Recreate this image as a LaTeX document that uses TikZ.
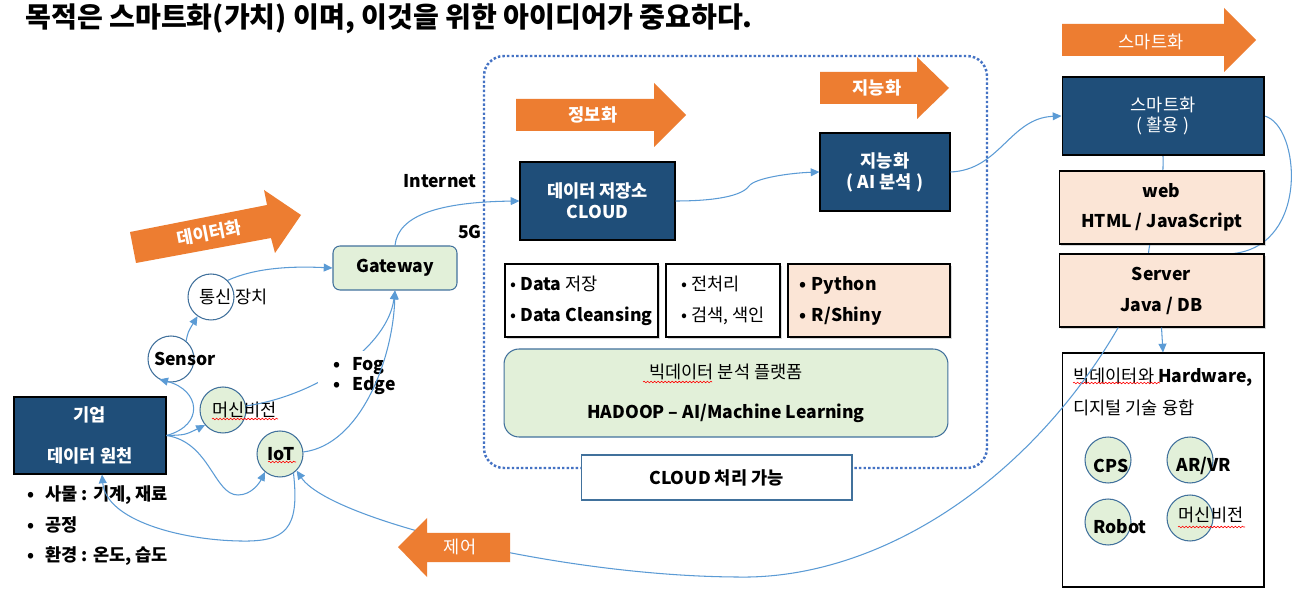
\documentclass[tikz,border=0pt]{standalone}
\usepackage{fontspec}
\setmainfont{Noto Sans CJK KR}
\usepackage{tikz}
\usetikzlibrary{arrows.meta,calc,shadows,decorations.pathmorphing}
\usepackage{xcolor}

\definecolor{boxblue}{HTML}{1F4E79}
\definecolor{ringblue}{HTML}{41719C}
\definecolor{linkblue}{HTML}{5B9BD5}
\definecolor{dotblue}{HTML}{4472C4}
\definecolor{leafgreen}{HTML}{E2F0D9}
\definecolor{peach}{HTML}{FBE5D6}
\definecolor{flamecol}{HTML}{ED7D31}

\pgfdeclarelayer{back}
\pgfsetlayers{back,main}

\tikzset{
	darkbox/.style={rectangle, draw=black, line width=0.6pt, fill=boxblue, text=white, align=center, inner sep=0pt},
	ring/.style={circle, draw=ringblue, line width=0.6pt, fill=white, minimum size=0.92cm, inner sep=0pt},
	leafring/.style={ring, fill=leafgreen},
	pane/.style={rectangle, draw=black, line width=0.6pt, fill=white, inner sep=0pt, align=left, minimum height=1.46cm, drop shadow={shadow xshift=1.2pt, shadow yshift=-1.2pt, opacity=0.3}},
	conn/.style={draw=linkblue, line width=0.6pt, -{Triangle[length=5pt,width=4.5pt]}},
	bare/.style={draw=linkblue, line width=0.6pt},
	squig/.style={draw=red, line width=0.35pt, decorate, decoration={snake, amplitude=0.45pt, segment length=2pt}},
	flametxt/.style={text=white, font=\bfseries},
}

\begin{document}
\begin{tikzpicture}[x=0.02cm, y=-0.02cm]
	\useasboundingbox (0,0) rectangle (1298,597);
	\begin{pgfonlayer}{back}
		\fill[white] (0,0) rectangle (1298,597);
	\end{pgfonlayer}

	\node(title) at (25,19)[anchor=west, inner sep=0pt, font=\fontsize{16}{19}\selectfont\bfseries]{목적은 스마트화(가치) 이며, 이것을 위한 아이디어가 중요하다.};

	% cloud frame
	\draw[dotblue, line width=1.4pt, dash pattern=on 1.4pt off 1.2pt, rounded corners=0.4cm] (484,56) rectangle (987,468);

	% data source side
	\node(src) at (90,435.5)[darkbox, minimum width=3.04cm, minimum height=1.54cm, font=\bfseries]{기업\\[11pt]데이터 원천};
	\node(things) at (27,526)[anchor=west, inner sep=0pt, align=left, font=\bfseries]{\makebox[10.2pt][l]{•}사물 : 기계, 재료\\[5.4pt]\makebox[10.2pt][l]{•}공정\\[5.4pt]\makebox[10.2pt][l]{•}환경 : 온도, 습도};

	\node(comm) at (211,297)[ring]{};
	\node(commtxt) at (199,297)[anchor=west, inner sep=0pt]{통신 장치};
	\node(sensor) at (171,359)[ring]{};
	\node(sensortxt) at (185,359)[inner sep=0pt, font=\bfseries]{Sensor};
	\node(mv) at (223,410)[leafring]{};
	\node(mvtxt) at (244.5,410)[inner sep=0pt]{머신비전};
	\node(iot) at (280,454)[leafring]{};
	\node(iottxt) at (281,454)[inner sep=0pt, font=\bfseries]{IoT};
	\draw[squig] (212,419) -- (278,419);
	\draw[squig] (268,462) -- (296,462);

	\node(gw) at (395,268)[rectangle, rounded corners=0.14cm, draw=ringblue, line width=0.6pt, fill=leafgreen, minimum width=2.48cm, minimum height=0.88cm, font=\bfseries]{Gateway};
	\node(inet) at (440,181)[font=\bfseries]{Internet};
	\node(fiveg) at (470,232)[font=\bfseries]{5G};

	% cloud side
	\node(store) at (597.5,201)[darkbox, minimum width=3.1cm, minimum height=1.56cm, font=\bfseries]{데이터 저장소\\CLOUD};
	\node(ai) at (885,172)[darkbox, minimum width=2.6cm, minimum height=1.56cm, font=\bfseries]{지능화\\( AI 분석 )};
	\node(dbox) at (581.5,300.5)[pane, minimum width=3.06cm]{• \textbf{Data} 저장\\[5.6pt]• \textbf{Data Cleansing}};
	\node(pbox) at (723,300.5)[pane, minimum width=2.28cm]{• 전처리\\[5.6pt]• 검색, 색인};
	\node(ybox) at (869,300.5)[pane, fill=peach, minimum width=3.24cm, text width=2.8cm, inner xsep=0.22cm, font=\bfseries]{• Python\\[5.6pt]• R/Shiny};
	\node(hadoop) at (726,393)[rectangle, rounded corners=0.3cm, draw=ringblue, line width=0.6pt, fill=leafgreen, minimum width=8.88cm, minimum height=1.76cm, align=center]{빅데이터 분석 플랫폼\\[10.7pt]\textbf{HADOOP – AI/Machine Learning}};
	\draw[squig] (643,382) -- (712,382);
	\node(cloudlbl) at (716.5,477.5)[rectangle, draw=ringblue, line width=0.6pt, fill=white, minimum width=5.42cm, minimum height=0.9cm, font=\bfseries]{CLOUD 처리 가능};

	% use side
	\node(smart) at (1163,116)[darkbox, minimum width=4.04cm, minimum height=1.56cm]{스마트화\\[-0.7pt]( 활용 )};
	\node(web) at (1161.5,207.5)[pane, fill=peach, minimum width=4.1cm, align=center, font=\bfseries]{web\\[5pt]HTML / JavaScript};
	\node(server) at (1161.5,290.5)[pane, fill=peach, minimum width=4.1cm, align=center, font=\bfseries]{Server\\[5.6pt]Java / DB};
	\node(fusion) at (1163,470)[rectangle, draw=black, line width=0.6pt, fill=white, minimum width=4.04cm, minimum height=4.68cm]{};
	\node(fusiontxt) at (1073,392)[anchor=west, inner sep=0pt, align=left]{빅데이터와 \textbf{Hardware,}\\[6.1pt]디지털 기술 융합};
	\draw[squig] (1073,383) -- (1160,383);
	\node(cps) at (1108,460)[leafring]{};
	\node(cpstxt) at (1111,466)[inner sep=0pt, font=\bfseries]{CPS};
	\node(arvr) at (1190,460)[leafring]{};
	\node(arvrtxt) at (1204,466)[inner sep=0pt, font=\bfseries]{AR/VR};
	\node(robot) at (1108,522)[leafring]{};
	\node(robottxt) at (1120,527)[inner sep=0pt, font=\bfseries]{Robot};
	\node(mv2) at (1190,518)[leafring]{};
	\node(mv2txt) at (1211,515)[inner sep=0pt]{머신비전};
	\draw[squig] (1178,527) -- (1245,527);

	% lines hidden behind the boxes
	\begin{pgfonlayer}{back}
		\draw[bare] (smart.south) .. controls (1164,215) and (1150,232) .. ($(server.north)+(-13,0)$);
		\draw[bare] (smart.east) .. controls (1300,125) and (1310,245) .. ($(server.north west)!0.85!(server.north east)$);
	\end{pgfonlayer}

	% connectors
	\draw[conn] (src.east) .. controls (205,425) and (200,390) .. (sensor.-120);
	\draw[conn] (sensor.50) .. controls (188,332) .. (comm.-125);
	\draw[conn] (comm.45) .. controls (255,268) and (290,266) .. (gw.west);
	\draw[conn] (src.east) .. controls (185,435) .. (mv.-140);
	\draw[conn] (src.east) .. controls (210,442) and (214,495) .. (238,495) .. controls (252,495) and (260,482) .. (iot.-130);
	\draw[conn] (iot.-55) .. controls (300,530) and (285,542) .. (240,541) .. controls (180,540) and (106,520) .. ($(src.south)+(12,0)$);
	\draw[conn] (mv.10) .. controls (320,395) and (388,345) .. (gw.south);
	\node(fog) at (318,376)[anchor=west, fill=white, inner xsep=0.3cm, inner ysep=0pt, minimum height=1cm, align=left, font=\bfseries]{\makebox[0.38cm][l]{•}Fog\\[-0.7pt]\makebox[0.38cm][l]{•}Edge};
	\draw[conn] (iot.5) .. controls (360,445) and (393,360) .. (gw.south);
	\draw[conn] (gw.north) .. controls (398,215) and (440,202) .. (store.west);
	\draw[conn] (store.east) .. controls (715,201) and (742,196) .. (749,186) .. controls (755,178) and (790,173) .. (ai.west);
	\draw[conn] (ai.east) .. controls (1000,170) and (1010,118) .. (smart.west);
	\draw[conn] (server.south) -- (fusion.north);
	\draw[conn] ($(server.south west)!0.29!(server.south east)$) .. controls (1030,480) and (880,580) .. (737,577) .. controls (560,576) and (330,520) .. (iot.-45);

	% stage arrows
	\fill[flamecol] (130,232) -- (267,205) -- (264,190) -- (301,215) -- (275,253) -- (271,238) -- (136,263) -- cycle;
	\node(datafy) at (209,233)[flametxt, rotate=11]{데이터화};
	\fill[flamecol] (516,99) -- (654,99) -- (654,83) -- (686,115) -- (654,147) -- (654,131) -- (516,131) -- cycle;
	\node(informy) at (593,115)[flametxt]{정보화};
	\fill[flamecol] (820,72) -- (917,72) -- (917,57) -- (949,88) -- (917,119) -- (917,104) -- (820,104) -- cycle;
	\node(intelly) at (877,88)[flametxt]{지능화};
	\fill[flamecol] (1062,24) -- (1224,24) -- (1224,8) -- (1256,40) -- (1224,72) -- (1224,56) -- (1062,56) -- cycle;
	\node(smarty) at (1151,42)[text=white]{스마트화};
	\fill[flamecol] (510,533) -- (427,533) -- (427,518) -- (398,547) -- (427,577) -- (427,562) -- (510,562) -- cycle;
	\node(control) at (460,547)[text=white]{제어};
\end{tikzpicture}
\end{document}
